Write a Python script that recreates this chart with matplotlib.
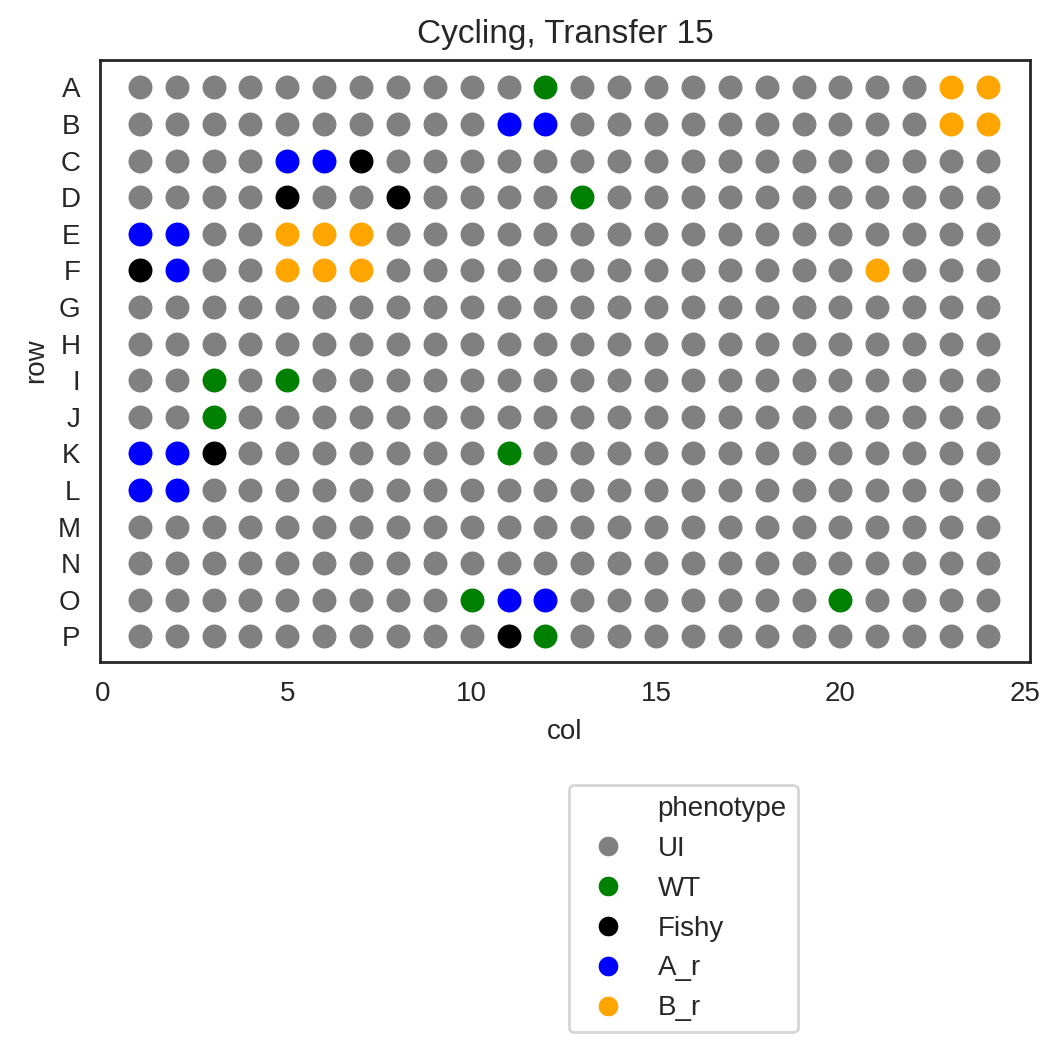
import matplotlib.pyplot as plt
from matplotlib.lines import Line2D

# plate layout
rows = list('ABCDEFGHIJKLMNOP')
cols = list(range(1, 25))

phenotypes = ['UI', 'WT', 'Fishy', 'A_r', 'B_r']
palette = ['grey', 'green', 'black', 'blue', 'orange']

# wells that are not UI: (row, col, phenotype)
called_wells = [
    ('A', 12, 'WT'), ('A', 23, 'B_r'), ('A', 24, 'B_r'),
    ('B', 11, 'A_r'), ('B', 12, 'A_r'), ('B', 23, 'B_r'), ('B', 24, 'B_r'),
    ('C', 5, 'A_r'), ('C', 6, 'A_r'), ('C', 7, 'Fishy'),
    ('D', 5, 'Fishy'), ('D', 8, 'Fishy'), ('D', 13, 'WT'),
    ('E', 1, 'A_r'), ('E', 2, 'A_r'), ('E', 5, 'B_r'), ('E', 6, 'B_r'), ('E', 7, 'B_r'),
    ('F', 1, 'Fishy'), ('F', 2, 'A_r'), ('F', 5, 'B_r'), ('F', 6, 'B_r'), ('F', 7, 'B_r'),
    ('F', 21, 'B_r'),
    ('I', 3, 'WT'), ('I', 5, 'WT'),
    ('J', 3, 'WT'),
    ('K', 1, 'A_r'), ('K', 2, 'A_r'), ('K', 3, 'Fishy'), ('K', 11, 'WT'),
    ('L', 1, 'A_r'), ('L', 2, 'A_r'),
    ('O', 10, 'WT'), ('O', 11, 'A_r'), ('O', 12, 'A_r'), ('O', 20, 'WT'),
    ('P', 11, 'Fishy'), ('P', 12, 'WT'),
]

calls = {(r, c): p for r, c, p in called_wells}

plt.rcParams['font.family'] = ['Liberation Sans', 'DejaVu Sans']
plt.rcParams['text.color'] = '.15'
plt.rcParams['axes.labelcolor'] = '.15'
plt.rcParams['xtick.color'] = '.15'
plt.rcParams['ytick.color'] = '.15'

fig = plt.figure(figsize=(1059 / 200, 1053 / 200), dpi=200)
ax = fig.add_axes([100 / 1059, 1 - 662 / 1053, 930 / 1059, 602 / 1053])

for ph, color in zip(phenotypes, palette):
    xs, ys = [], []
    for i, r in enumerate(rows):
        for c in cols:
            if calls.get((r, c), 'UI') == ph:
                xs.append(c)
                ys.append(i)
    ax.scatter(xs, ys, s=85, color=color, edgecolor='white', linewidth=0.6, zorder=3)

ax.set_xlim(-0.08, 25.14)
ax.set_xticks([0, 5, 10, 15, 20, 25])
ax.set_yticks(range(len(rows)))
ax.set_yticklabels(rows)
ax.set_ylim(len(rows) - 0.3, -0.75)
ax.tick_params(labelsize=10, length=0, pad=7)
ax.set_xlabel('col', fontsize=10, labelpad=4)
ax.set_ylabel('row', fontsize=10, labelpad=3)
ax.set_title('Cycling, Transfer 15', fontsize=12, pad=6)
for sp in ax.spines.values():
    sp.set_color('.15')
    sp.set_linewidth(1.0)

# legend with the hue title as first entry
handles = [Line2D([], [], linestyle='', marker='')]
labels = ['phenotype']
for ph, color in zip(phenotypes, palette):
    handles.append(Line2D([], [], linestyle='', marker='o', markersize=7.5,
                          markerfacecolor=color, markeredgecolor='white', markeredgewidth=0.4))
    labels.append(ph)
leg = ax.legend(handles, labels, loc='upper left', bbox_to_anchor=(0.504, -0.204),
                borderaxespad=0, fontsize=10, frameon=True)
leg.get_frame().set_edgecolor('0.8')

fig.savefig('out.png', dpi=200)
